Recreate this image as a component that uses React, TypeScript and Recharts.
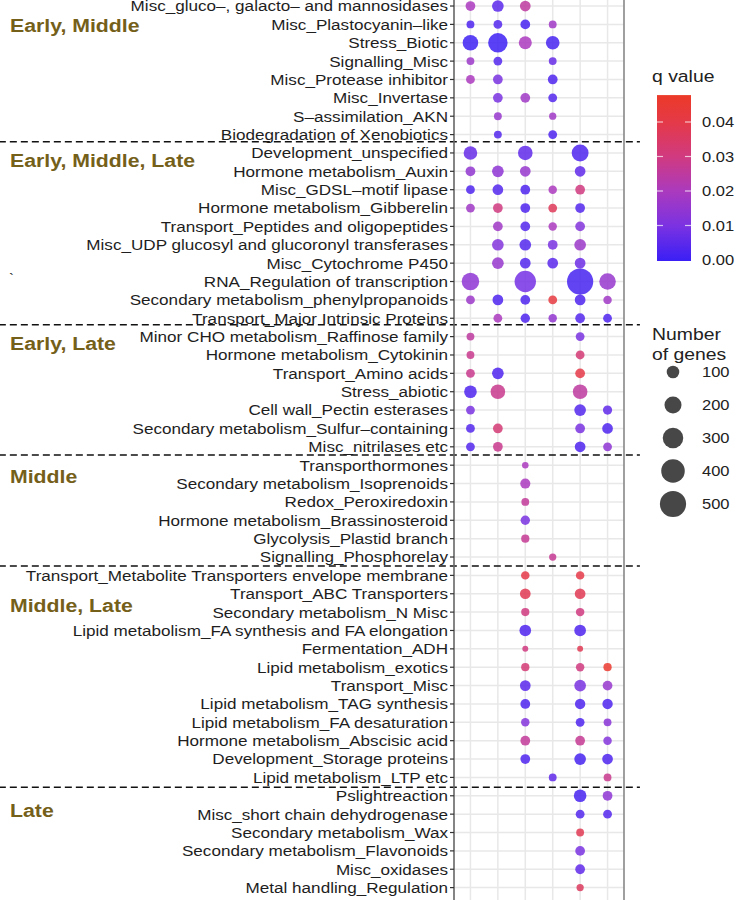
import React from "react";
import {
  ScatterChart,
  Scatter,
  XAxis,
  YAxis,
  ZAxis,
  CartesianGrid,
  ReferenceLine,
  Cell,
} from "recharts";

type Row = { term: string; genes: (number | null)[]; q: (number | null)[] };

const columns = [1, 2, 3, 4, 5, 6];

const earlyMiddle: Row[] = [
  { term: "Misc_gluco–, galacto– and mannosidases", genes: [56, 89, 72, null, null, null], q: [0.02, 0.005, 0.025, null, null, null] },
  { term: "Misc_Plastocyanin–like", genes: [29, 42, 56, 29, null, null], q: [0.003, 0.004, 0.002, 0.018, null, null] },
  { term: "Stress_Biotic", genes: [174, 283, 116, 129, null, null], q: [0.001, 0.0005, 0.02, 0.002, null, null] },
  { term: "Signalling_Misc", genes: [29, 42, null, 29, null, null], q: [0.017, 0.004, null, 0.007, null, null] },
  { term: "Misc_Protease inhibitor", genes: [42, 56, null, 56, null, null], q: [0.02, 0.01, null, 0.003, null, null] },
  { term: "Misc_Invertase", genes: [null, 56, 56, 42, null, null], q: [null, 0.01, 0.018, 0.004, null, null] },
  { term: "S–assimilation_AKN", genes: [null, 29, null, 22, null, null], q: [null, 0.016, null, 0.018, null, null] },
  { term: "Biodegradation of Xenobiotics", genes: [null, 29, null, 42, null, null], q: [null, 0.004, null, 0.003, null, null] },
];

const earlyMiddleLate: Row[] = [
  { term: "Development_unspecified", genes: [129, null, 151, null, 209, null], q: [0.007, null, 0.006, null, 0.003, null] },
  { term: "Hormone metabolism_Auxin", genes: [56, 89, 72, null, 72, null], q: [0.015, 0.014, 0.016, null, 0.006, null] },
  { term: "Misc_GDSL–motif lipase", genes: [42, 72, 56, 37, 56, null], q: [0.003, 0.004, 0.003, 0.02, 0.03, null] },
  { term: "Hormone metabolism_Gibberelin", genes: [42, 56, 56, 42, 56, null], q: [0.018, 0.03, 0.003, 0.037, 0.004, null] },
  { term: "Transport_Peptides and oligopeptides", genes: [null, 56, 56, 37, 56, null], q: [null, 0.018, 0.004, 0.02, 0.012, null] },
  { term: "Misc_UDP glucosyl and glucoronyl transferases", genes: [null, 89, 89, 56, 89, null], q: [null, 0.012, 0.004, 0.01, 0.017, null] },
  { term: "Misc_Cytochrome P450", genes: [null, 89, 72, 72, 72, null], q: [null, 0.016, 0.004, 0.005, 0.008, null] },
  { term: "RNA_Regulation of transcription", genes: [225, null, 346, null, 531, 199], q: [0.014, null, 0.009, null, 0.002, 0.016] },
  { term: "Secondary metabolism_phenylpropanoids", genes: [42, 72, 56, 42, 72, 37], q: [0.017, 0.003, 0.003, 0.042, 0.003, 0.018] },
  { term: "Transport_Major Intrinsic Proteins", genes: [null, 42, 50, 37, 56, 42], q: [null, 0.02, 0.003, 0.015, 0.004, 0.003] },
];

const earlyLate: Row[] = [
  { term: "Minor CHO metabolism_Raffinose family", genes: [29, null, null, null, 42, null], q: [0.025, null, null, null, 0.01, null] },
  { term: "Hormone metabolism_Cytokinin", genes: [29, null, null, null, 42, null], q: [0.028, null, null, null, 0.032, null] },
  { term: "Transport_Amino acids", genes: [42, 89, null, null, 56, null], q: [0.028, 0.003, null, null, 0.04, null] },
  { term: "Stress_abiotic", genes: [108, 151, null, null, 151, null], q: [0.003, 0.028, null, null, 0.025, null] },
  { term: "Cell wall_Pectin esterases", genes: [42, null, null, null, 89, 48], q: [0.01, null, null, null, 0.004, 0.006] },
  { term: "Secondary metabolism_Sulfur–containing", genes: [42, 56, null, null, 56, 72], q: [0.004, 0.032, null, null, 0.01, 0.003] },
  { term: "Misc_nitrilases etc", genes: [42, 56, null, null, 72, 42], q: [0.004, 0.028, null, null, 0.003, 0.014] },
];

const middle: Row[] = [
  { term: "Transporthormones", genes: [null, null, 14, null, null, null], q: [null, null, 0.02, null, null, null] },
  { term: "Secondary metabolism_Isoprenoids", genes: [null, null, 62, null, null, null], q: [null, null, 0.02, null, null, null] },
  { term: "Redox_Peroxiredoxin", genes: [null, null, 29, null, null, null], q: [null, null, 0.026, null, null, null] },
  { term: "Hormone metabolism_Brassinosteroid", genes: [null, null, 50, null, null, null], q: [null, null, 0.01, null, null, null] },
  { term: "Glycolysis_Plastid branch", genes: [null, null, 34, null, null, null], q: [null, null, 0.027, null, null, null] },
  { term: "Signalling_Phosphorelay", genes: [null, null, null, 22, null, null], q: [null, null, null, 0.027, null, null] },
];

const middleLate: Row[] = [
  { term: "Transport_Metabolite Transporters envelope membrane", genes: [null, null, 37, null, 37, null], q: [null, null, 0.04, null, 0.04, null] },
  { term: "Transport_ABC Transporters", genes: [null, null, 72, null, 72, null], q: [null, null, 0.038, null, 0.038, null] },
  { term: "Secondary metabolism_N Misc", genes: [null, null, 34, null, 37, null], q: [null, null, 0.03, null, 0.03, null] },
  { term: "Lipid metabolism_FA synthesis and FA elongation", genes: [null, null, 89, null, 89, null], q: [null, null, 0.003, null, 0.003, null] },
  { term: "Fermentation_ADH", genes: [null, null, 8, null, 8, null], q: [null, null, 0.03, null, 0.038, null] },
  { term: "Lipid metabolism_exotics", genes: [null, null, 34, null, 37, 34], q: [null, null, 0.032, null, 0.03, 0.046] },
  { term: "Transport_Misc", genes: [null, null, 72, null, 89, 56], q: [null, null, 0.005, null, 0.01, 0.016] },
  { term: "Lipid metabolism_TAG synthesis", genes: [null, null, 56, null, 66, 66], q: [null, null, 0.003, null, 0.003, 0.003] },
  { term: "Lipid metabolism_FA desaturation", genes: [null, null, 37, null, 42, 29], q: [null, null, 0.012, null, 0.003, 0.013] },
  { term: "Hormone metabolism_Abscisic acid", genes: [null, null, 56, null, 56, 37], q: [null, null, 0.026, null, 0.027, 0.012] },
  { term: "Development_Storage proteins", genes: [null, null, 56, null, 89, 72], q: [null, null, 0.003, null, 0.002, 0.003] },
  { term: "Lipid metabolism_LTP etc", genes: [null, null, null, 29, null, 29], q: [null, null, null, 0.006, null, 0.028] },
];

const late: Row[] = [
  { term: "Pslightreaction", genes: [null, null, null, null, 108, 56], q: [null, null, null, null, 0.002, 0.014] },
  { term: "Misc_short chain dehydrogenase", genes: [null, null, null, null, 42, 42], q: [null, null, null, null, 0.004, 0.004] },
  { term: "Secondary metabolism_Wax", genes: [null, null, null, null, 29, null], q: [null, null, null, null, 0.038, null] },
  { term: "Secondary metabolism_Flavonoids", genes: [null, null, null, null, 56, null], q: [null, null, null, null, 0.01, null] },
  { term: "Misc_oxidases", genes: [null, null, null, null, 56, null], q: [null, null, null, null, 0.006, null] },
  { term: "Metal handling_Regulation", genes: [null, null, null, null, 22, null], q: [null, null, null, null, 0.036, null] },
];

const groupNames = ["Early, Middle", "Early, Middle, Late", "Early, Late", "Middle", "Middle, Late", "Late"];
// separator positions in row units
const groupBreaks = [7.39, 17.35, 24.44, 30.49, 42.54];

const qTicks = [0.0, 0.01, 0.02, 0.03, 0.04];
const sizeBreaks = [100, 200, 300, 400, 500];

// ---------- derived ----------
const allRows: Row[] = [...earlyMiddle, ...earlyMiddleLate, ...earlyLate, ...middle, ...middleLate, ...late];
const rowNames = allRows.map((r) => r.term);
const rowIndices = allRows.map((_, i) => i);

type Pt = { x: number; y: number; z: number; q: number };
const points: Pt[] = [];
allRows.forEach((r, i) => {
  r.genes.forEach((g, c) => {
    if (g != null) points.push({ x: columns[c], y: i, z: g, q: r.q[c] as number });
  });
});

// colour scale
const Q_MAX = 0.0478;
const qStops: [number, number[]][] = [
  [0, [58, 31, 245]],
  [0.01, [122, 50, 226]],
  [0.02, [170, 58, 190]],
  [0.03, [208, 58, 128]],
  [0.04, [228, 57, 72]],
  [Q_MAX, [236, 58, 40]],
];
function qColor(q: number): string {
  const v = Math.max(0, Math.min(Q_MAX, q));
  for (let i = 0; i < qStops.length - 1; i++) {
    const [a, ca] = qStops[i];
    const [b, cb] = qStops[i + 1];
    if (v >= a && v <= b) {
      const t = (v - a) / (b - a);
      const c = ca.map((x, k) => Math.round(x + (cb[k] - x) * t));
      return `rgb(${c[0]},${c[1]},${c[2]})`;
    }
  }
  return "rgb(236,58,40)";
}

const Z_DOMAIN: [number, number] = [0, 500];
const Z_RANGE: [number, number] = [20, 540];
const sizeRadius = (n: number) =>
  Math.sqrt((Z_RANGE[0] + ((n - Z_DOMAIN[0]) / (Z_DOMAIN[1] - Z_DOMAIN[0])) * (Z_RANGE[1] - Z_RANGE[0])) / Math.PI);

const FONT = "'Liberation Sans', Arial, Helvetica, sans-serif";
const SX = 1.14;

const stretch = (x: number, y: number, s = SX) => `translate(${x} ${y}) scale(${s} 1) translate(${-x} ${-y})`;

const YTick = (props: any) => {
  const { x, y, payload } = props;
  const label = rowNames[payload.value] ?? "";
  return (
    <text x={x} y={y} dy="0.36em" textAnchor="end" fontSize={15} fontFamily={FONT} fill="#1e1e1e" transform={stretch(x, y)}>
      {label}
    </text>
  );
};

const groupLabelY = [25, 160, 343, 476, 605, 810];

// colorbar geometry (legend)
const CB_X = 657;
const CB_W = 34;
const CB_Y0 = 260; // q = 0
const CB_PX_PER_Q = 3450;
const cbY = (q: number) => CB_Y0 - q * CB_PX_PER_Q;

export default function App() {
  const gradStops = qStops.map(([q, c]) => ({ off: 1 - q / Q_MAX, col: `rgb(${c[0]},${c[1]},${c[2]})` })).reverse();
  return (
    <div style={{ position: "absolute", left: 0, top: 0, width: 741, height: 900, overflow: "hidden", background: "#fff" }}>
      <div style={{ position: "absolute", left: 0, top: -20 }}>
        <ScatterChart width={741} height={957} margin={{ top: 15, right: 117, bottom: 20, left: 0 }}>
          <CartesianGrid
            stroke="#e8e8e8"
            strokeWidth={1.5}
            horizontalValues={rowIndices}
            verticalValues={columns}
          />
          <XAxis type="number" dataKey="x" domain={[0.4, 6.6]} ticks={columns} hide allowDataOverflow />
          <YAxis
            type="number"
            dataKey="y"
            domain={[-0.6, 49.6]}
            reversed
            allowDataOverflow
            ticks={rowIndices}
            interval={0}
            width={454}
            tickSize={4}
            tickMargin={2}
            tick={<YTick />}
            tickLine={{ stroke: "#333", strokeWidth: 1.2 }}
            axisLine={{ stroke: "#666", strokeWidth: 1.6 }}
          />
          <ZAxis type="number" dataKey="z" domain={Z_DOMAIN} range={Z_RANGE} />
          <ReferenceLine x={6.6} stroke="#888" strokeWidth={1.6} />
          {groupBreaks.map((b, i) => (
            <ReferenceLine
              key={i}
              segment={[
                { x: -16.2, y: b },
                { x: 7.18, y: b },
              ]}
              ifOverflow="visible"
              stroke="#111"
              strokeWidth={1.5}
              strokeDasharray="7 4"
            />
          ))}
          <Scatter data={points} isAnimationActive={false} fillOpacity={0.85}>
            {points.map((p, i) => (
              <Cell key={i} fill={qColor(p.q)} />
            ))}
          </Scatter>
        </ScatterChart>
      </div>
      <svg style={{ position: "absolute", left: 0, top: 0, pointerEvents: "none" }} width={741} height={900}>
        <defs>
          <linearGradient id="qgrad" x1="0" y1="0" x2="0" y2="1">
            {gradStops.map((s, i) => (
              <stop key={i} offset={s.off} stopColor={s.col} />
            ))}
          </linearGradient>
        </defs>
        {groupNames.map((g, i) => (
          <text
            key={g}
            x={10}
            y={groupLabelY[i]}
            dy="0.36em"
            fontSize={18.5}
            fontWeight="bold"
            fontFamily={FONT}
            fill="#75601a"
            transform={stretch(10, groupLabelY[i], 1.15)}
          >
            {g}
          </text>
        ))}
        <text x={9} y={284} fontSize={15} fontFamily={FONT} fill="#222">`</text>

        {/* q value legend */}
        <text x={652} y={76} dy="0.36em" fontSize={17} fontFamily={FONT} fill="#222" transform={stretch(652, 76)}>
          q value
        </text>
        <rect x={CB_X} y={cbY(Q_MAX)} width={CB_W} height={cbY(0) - cbY(Q_MAX) + 1} fill="url(#qgrad)" />
        {qTicks.map((t) => (
          <g key={t}>
            {t > 0 && (
              <>
                <line x1={CB_X} x2={CB_X + 6} y1={cbY(t)} y2={cbY(t)} stroke="#fff" strokeOpacity={0.7} strokeWidth={1.2} />
                <line x1={CB_X + CB_W - 6} x2={CB_X + CB_W} y1={cbY(t)} y2={cbY(t)} stroke="#fff" strokeOpacity={0.7} strokeWidth={1.2} />
              </>
            )}
            <text x={702} y={cbY(t)} dy="0.36em" fontSize={15} fontFamily={FONT} fill="#222" transform={stretch(702, cbY(t), 1.1)}>
              {t.toFixed(2)}
            </text>
          </g>
        ))}

        {/* size legend */}
        <text x={652} y={334} dy="0.36em" fontSize={17} fontFamily={FONT} fill="#222" transform={stretch(652, 334)}>
          Number
        </text>
        <text x={652} y={354} dy="0.36em" fontSize={17} fontFamily={FONT} fill="#222" transform={stretch(652, 354)}>
          of genes
        </text>
        {sizeBreaks.map((n, i) => {
          const cy = 372 + i * 33;
          return (
            <g key={n}>
              <circle cx={673} cy={cy} r={sizeRadius(n)} fill="#333" fillOpacity={0.9} />
              <text x={702} y={cy} dy="0.36em" fontSize={15} fontFamily={FONT} fill="#222" transform={stretch(702, cy, 1.1)}>
                {n}
              </text>
            </g>
          );
        })}
      </svg>
    </div>
  );
}
